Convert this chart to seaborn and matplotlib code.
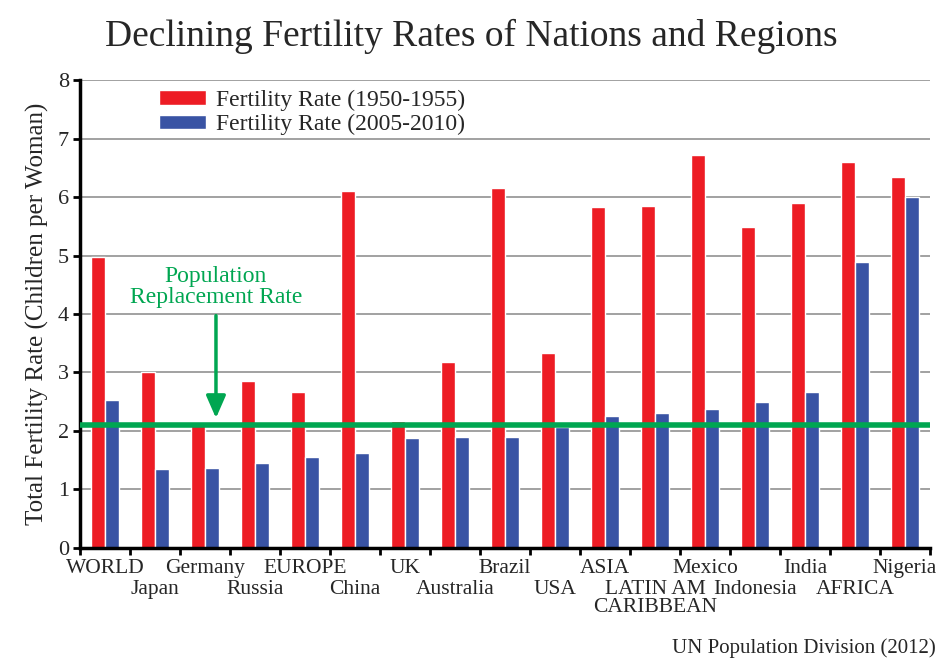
import pandas as pd
import numpy as np
import matplotlib.pyplot as plt
import seaborn as sns

# Data
regions = ["WORLD", "Japan", "Germany", "Russia", "EUROPE", "China", "UK", "Australia",
           "Brazil", "USA", "ASIA", "LATIN AM\nCARIBBEAN", "Mexico", "Indonesia",
           "India", "AFRICA", "Nigeria"]
rate_1950 = [4.97, 3.00, 2.10, 2.85, 2.67, 6.10, 2.17, 3.18, 6.15, 3.33, 5.83, 5.85,
             6.72, 5.49, 5.90, 6.60, 6.34]
rate_2005 = [2.53, 1.35, 1.37, 1.45, 1.55, 1.62, 1.88, 1.90, 1.90, 2.07, 2.26, 2.31,
             2.38, 2.50, 2.67, 4.89, 6.00]
periods = ["Fertility Rate (1950-1955)", "Fertility Rate (2005-2010)"]
replacement_rate = 2.1

RED = "#ed1c24"
BLUE = "#3953a4"
GREEN = "#00a651"

df = pd.DataFrame({
    "region": regions * 2,
    "rate": rate_1950 + rate_2005,
    "period": [periods[0]] * len(regions) + [periods[1]] * len(regions),
})

sns.set_style("white")
plt.rcParams["font.family"] = ["Liberation Serif", "DejaVu Serif"]

fig = plt.figure(figsize=(9.42, 6.58), dpi=100)
ax = fig.add_axes([0.0849, 0.1672, 0.9023, 0.7112])

sns.barplot(data=df, x="region", y="rate", hue="period", palette=[RED, BLUE],
            width=0.56, saturation=1, ax=ax, legend=True, zorder=2)

ax.set_ylim(0, 8)
ax.set_xlim(-0.5, len(regions) - 0.5)
ax.set_yticks(range(0, 9))
ax.yaxis.grid(True, color="#9a9a9a", linewidth=1.3, zorder=0)
ax.set_axisbelow(True)

# replacement line + note
ax.axhline(replacement_rate, color=GREEN, linewidth=4, zorder=3)
ax.annotate("Population\nReplacement Rate", xy=(2.22, 2.22), xytext=(2.22, 4.1),
            ha="center", va="bottom", color=GREEN, fontsize=17, linespacing=1.0,
            arrowprops=dict(arrowstyle="-|>,head_width=0.35,head_length=0.8",
                            color=GREEN, lw=2.5, shrinkA=3, shrinkB=0))

# staggered x labels, drawn as text so rows do not collide
ax.set_xticks([])
ax.set_xticks(np.arange(-0.5, len(regions), 1.0), minor=True)
ax.tick_params(axis="x", which="minor", bottom=True, length=5, width=2,
               direction="out", color="black")
xt = ax.get_xaxis_transform()
for i, name in enumerate(regions):
    y = -0.024 if i % 2 == 0 else -0.068
    ax.text(i, y, name, transform=xt, ha="center", va="top", fontsize=15.5,
            linespacing=0.95)

ax.tick_params(axis="y", left=True, length=5, width=2, direction="out", color="black",
               labelsize=16, pad=3)

for side in ["top", "right"]:
    ax.spines[side].set_visible(False)
for side in ["left", "bottom"]:
    ax.spines[side].set_color("black")
    ax.spines[side].set_linewidth(2.5)

ax.set_xlabel("")
ax.set_ylabel("Total Fertility Rate (Children per Woman)", fontsize=18, labelpad=6)

ax.legend(loc="upper left", bbox_to_anchor=(0.068, 1.025), frameon=False, fontsize=17,
          handlelength=2.0, handleheight=0.55, handletextpad=0.4, labelspacing=0.15)

fig.suptitle("Declining Fertility Rates of Nations and Regions", fontsize=27, y=0.972)
fig.text(0.993, 0.0, "UN Population Division (2012)", ha="right", va="bottom", fontsize=15)

fig.savefig("out.png", dpi=100)
